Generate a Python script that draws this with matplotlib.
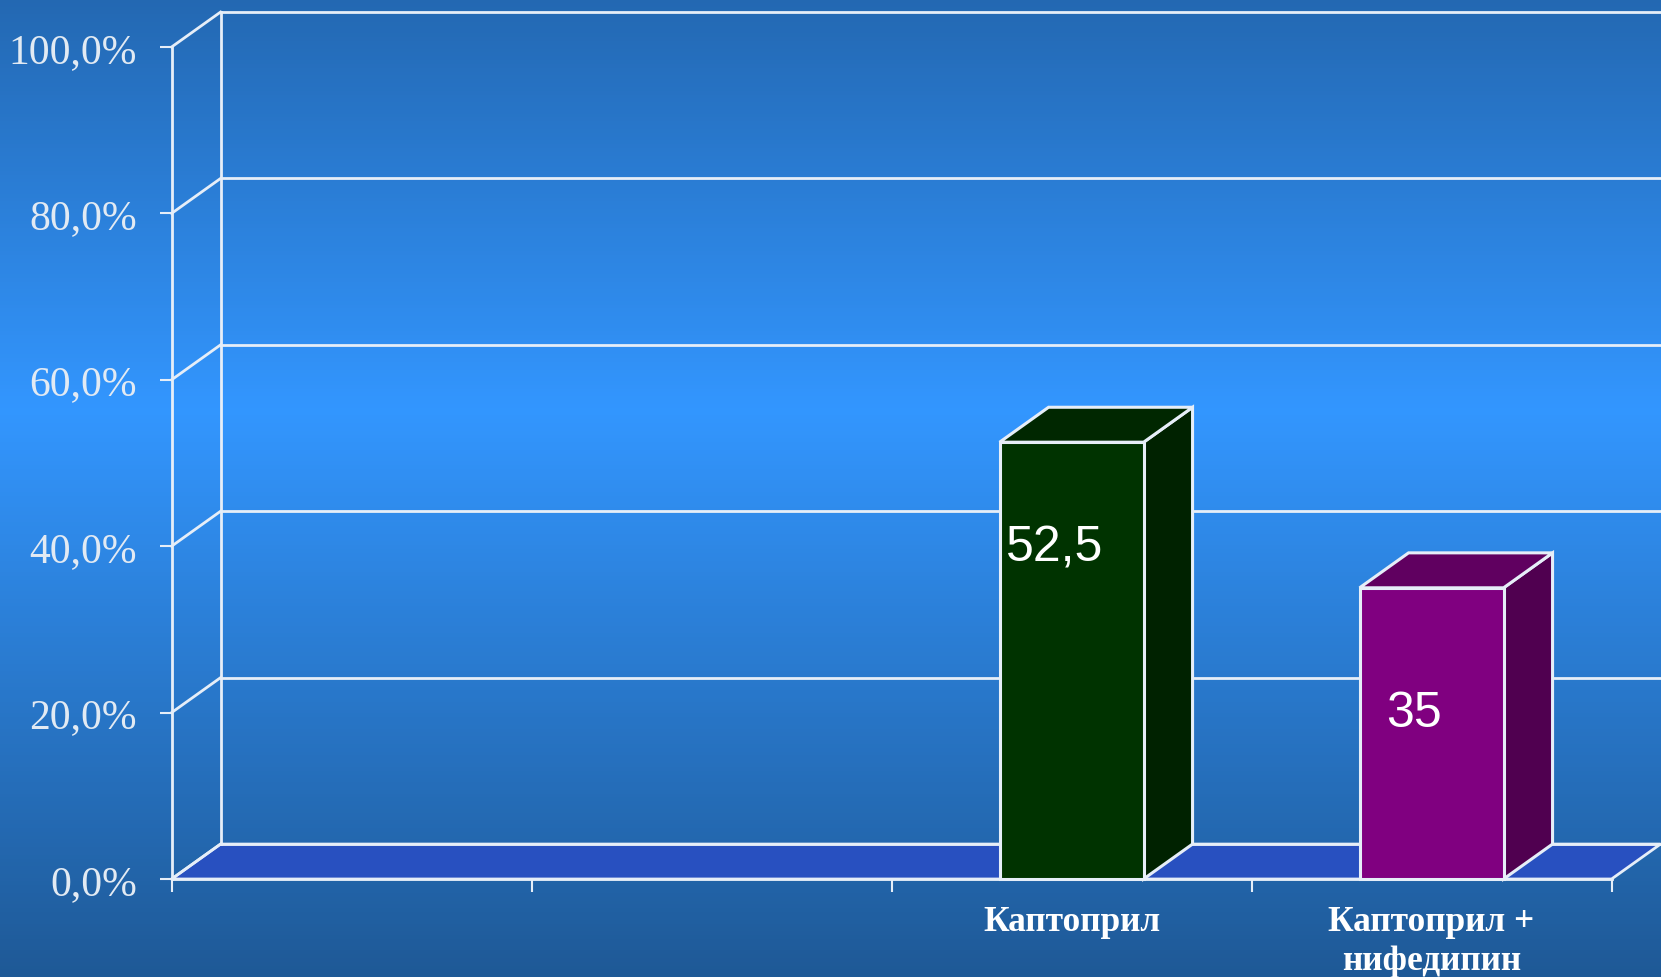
import numpy as np
import matplotlib.pyplot as plt
from matplotlib.patches import Polygon, Rectangle
from matplotlib.colors import LinearSegmentedColormap

categories = ["", "", "Каптоприл", "Каптоприл +\nнифедипин"]
values = [None, None, 52.5, 35.0]
value_labels = ["", "", "52,5", "35"]
yticks = [0, 20, 40, 60, 80, 100]
ytick_labels = ["0,0%", "20,0%", "40,0%", "60,0%", "80,0%", "100,0%"]

front_colors = {2: "#003300", 3: "#800080"}
side_colors = {2: "#002200", 3: "#500050"}
top_colors = {2: "#002700", 3: "#600060"}

# oblique depth of the 3d frame, in data units
DX = 0.136
DY = 4.2
BAR_W = 0.4
EDGE = "#e6eef8"

fig = plt.figure(figsize=(16.61, 9.78), dpi=100)

# background gradient
bg = fig.add_axes([0, 0, 1, 1], zorder=0)
grad = LinearSegmentedColormap.from_list(
    "bg", [(0.0, (0.14, 0.41, 0.70)), (0.42, (0.20, 0.59, 1.0)),
           (1.0, (0.12, 0.35, 0.59))])
bg.imshow(np.linspace(0, 1, 256).reshape(-1, 1), cmap=grad, aspect="auto",
          extent=[0, 1, 0, 1])
bg.set_axis_off()

ax = fig.add_axes([171.6 / 1661, 98 / 978, 1440 / 1661, 832 / 978], zorder=1)
ax.set_facecolor("none")
ax.set_xlim(0, 4)
ax.set_ylim(0, 100)

# floor
floor = Polygon([(0, 0), (4, 0), (4 + DX, DY), (DX, DY)], closed=True,
                facecolor="#2850c0", edgecolor=EDGE, lw=2, clip_on=False,
                zorder=1)
ax.add_patch(floor)

# back wall and left wall grid
for v in yticks:
    ax.plot([DX, 4 + DX], [v + DY, v + DY], color=EDGE, lw=2,
            clip_on=False, zorder=1.5)
    ax.plot([0, DX], [v, v + DY], color=EDGE, lw=2, clip_on=False,
            zorder=1.5)
ax.plot([DX, DX], [DY, 100 + DY], color=EDGE, lw=2, clip_on=False,
        zorder=1.5)

# bars
for i, v in enumerate(values):
    if v is None:
        continue
    c = i + 0.5
    x0, x1 = c - BAR_W / 2, c + BAR_W / 2
    side = Polygon([(x1, 0), (x1 + DX, DY), (x1 + DX, v + DY), (x1, v)],
                   facecolor=side_colors[i], edgecolor=EDGE, lw=2.2,
                   clip_on=False, zorder=3)
    top = Polygon([(x0, v), (x1, v), (x1 + DX, v + DY), (x0 + DX, v + DY)],
                  facecolor=top_colors[i], edgecolor=EDGE, lw=2.2,
                  clip_on=False, zorder=3)
    front = Rectangle((x0, 0), BAR_W, v, facecolor=front_colors[i],
                      edgecolor=EDGE, lw=2.2, clip_on=False, zorder=4)
    ax.add_patch(side)
    ax.add_patch(top)
    ax.add_patch(front)

ax.text(2.318, 39.9, value_labels[2], color="white", fontsize=36,
        family="Liberation Sans", ha="left", va="center", zorder=5)
ax.text(3.373, 19.95, value_labels[3], color="white", fontsize=36,
        family="Liberation Sans", ha="left", va="center", zorder=5)

# axes
for s in ["top", "right"]:
    ax.spines[s].set_visible(False)
for s in ["left", "bottom"]:
    ax.spines[s].set_color(EDGE)
    ax.spines[s].set_linewidth(2)
    ax.spines[s].set_zorder(2)

ax.set_yticks(yticks)
ax.set_yticklabels(ytick_labels, family="Liberation Serif", fontsize=30,
                   color="#e2eaf3")
ax.tick_params(axis="y", direction="out", length=9, width=1.5, color=EDGE,
               pad=16)

ax.set_xticks([0, 1, 2, 3, 4])
ax.set_xticklabels([])
ax.set_xticks([0.5, 1.5, 2.5, 3.5], minor=True)
ax.set_xticklabels(categories, minor=True, family="Liberation Serif",
                   fontweight="bold", fontsize=25.5, color="white",
                   linespacing=1.22)
ax.tick_params(axis="x", which="major", direction="out", length=9, width=1.5,
               color=EDGE)
ax.tick_params(axis="x", which="minor", length=0, pad=19)

fig.savefig("out.png", dpi=100)
